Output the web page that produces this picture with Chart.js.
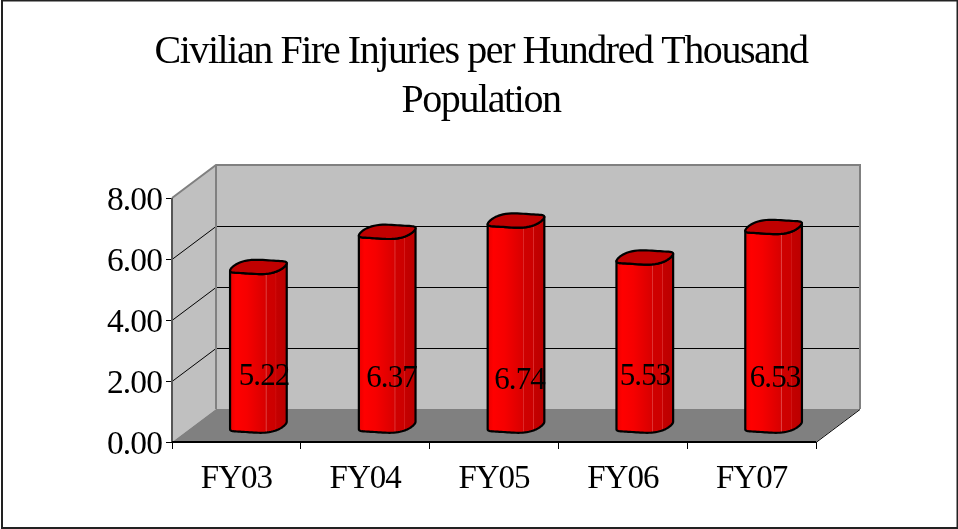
<!DOCTYPE html>
<html><head><meta charset="utf-8">
<style>html,body{margin:0;padding:0;background:#fff}#w{width:958px;height:529px;position:relative}</style>
<script src="https://cdn.jsdelivr.net/npm/chart.js@4"></script>
</head><body><div id="w"><canvas id="c" width="958" height="529"></canvas></div>
<script>
const categories = ['FY03','FY04','FY05','FY06','FY07'];
const injuries = [5.22,6.37,6.74,5.53,6.53];
const titleLines = ['Civilian Fire Injuries per Hundred Thousand','Population'];
const yTicks = [0,2,4,6,8];

const SERIF = '"Liberation Serif","Times New Roman",serif';
const DX = 44, DY = -33;                 // depth of the 3D box
const ringDx = 10, ringDy = 7.5;         // oblique depth of the cylinder's circular section

// The reference's text is tightly tracked: tracking is chosen from the font size
const trackingBySize = {40:'-1.42px',33.5:'-0.9px',33:'-1px',31:'-0.9px'};
const canvasEl = document.getElementById('c');
const ctx0 = canvasEl.getContext('2d');
const nativeFillText = ctx0.fillText;
ctx0.fillText = function(t,x,y,m){
  const size = parseFloat((this.font.match(/([\d.]+)px/)||[])[1]);
  this.letterSpacing = trackingBySize[size] || '0px';
  if(size===40) x += 2;
  return m===undefined ? nativeFillText.call(this,t,x,y) : nativeFillText.call(this,t,x,y,m);
};

// Cylinder drawn by the bar element itself, from its own scale-derived geometry
Chart.BarElement.prototype.draw = function(ctx){
  const half = this.width/2;
  const cx = this.x + DX/2;
  const top = this.y + DY/2, bot = this.base + DY/2;
  const wx = Math.sqrt(half*half - ringDx*ringDx);
  const t0 = Math.atan2(ringDx, wx);
  const pt = (cy,t)=>[cx + wx*Math.cos(t) + ringDx*Math.sin(t),
                      cy - ringDy*Math.sin(t) - 1.1*Math.sin(3*t+0.6)+1.1*Math.sin(0.6)];
  ctx.save();
  ctx.lineWidth = 2.2; ctx.strokeStyle = '#000'; ctx.lineJoin='round';
  const g = ctx.createLinearGradient(cx-half,0,cx+half,0);
  [[0,'#e80000'],[0.1,'#ff0000'],[0.3,'#f60000'],[0.62,'#d80000'],[0.64,'#e04040'],[0.65,'#cf0000'],
   [0.8,'#cc0000'],[0.81,'#dc3030'],[0.82,'#c40000'],[1,'#bb0000']].forEach(s=>g.addColorStop(s[0],s[1]));
  ctx.beginPath();
  let p = pt(top,Math.PI+t0); ctx.moveTo(p[0],p[1]);
  p = pt(bot,Math.PI+t0); ctx.lineTo(p[0],p[1]);
  for(let i=1;i<=40;i++){ p = pt(bot,Math.PI+t0+Math.PI*i/40); ctx.lineTo(p[0],p[1]); }
  p = pt(top,t0); ctx.lineTo(p[0],p[1]);
  for(let i=1;i<=40;i++){ p = pt(top,t0-Math.PI*i/40); ctx.lineTo(p[0],p[1]); }
  ctx.closePath(); ctx.fillStyle = g; ctx.fill(); ctx.stroke();
  ctx.beginPath();
  for(let i=0;i<=60;i++){ p = pt(top,2*Math.PI*i/60); i?ctx.lineTo(p[0],p[1]):ctx.moveTo(p[0],p[1]); }
  ctx.closePath(); ctx.fillStyle='#c00000'; ctx.fill(); ctx.stroke();
  ctx.restore();
};

const box3d = {
  id:'box3d',
  beforeDraw(chart){
    // optical centring of the y tick labels on their tick marks
    chart.scales.y.getLabelItems(chart.chartArea).forEach(it=>{
      if(!it.__moved){ it.options.translation[1]+=3; it.__moved=true; }
    });
  },
  beforeDatasetsDraw(chart){
    const {ctx,scales:{x,y}} = chart;
    const L=x.left,R=x.right,B=y.getPixelForValue(0),T=y.getPixelForValue(8);
    ctx.save();
    ctx.fillStyle='#c0c0c0';
    ctx.beginPath();ctx.moveTo(L,B);ctx.lineTo(L,T);ctx.lineTo(L+DX,T+DY);ctx.lineTo(R+DX,T+DY);ctx.lineTo(R+DX,B+DY);ctx.lineTo(L+DX,B+DY);ctx.closePath();ctx.fill();
    ctx.fillStyle='#808080';
    ctx.beginPath();ctx.moveTo(L,B);ctx.lineTo(L+DX,B+DY);ctx.lineTo(R+DX,B+DY);ctx.lineTo(R,B);ctx.closePath();ctx.fill();
    ctx.strokeStyle='#000';ctx.lineWidth=1;
    yTicks.slice(1,-1).forEach(v=>{
      const py=Math.round(y.getPixelForValue(v))+0.5;
      ctx.beginPath();ctx.moveTo(L,py);ctx.lineTo(L+DX,py+DY);ctx.lineTo(R+DX,py+DY);ctx.stroke();
    });
    ctx.strokeStyle='#808080';ctx.lineWidth=2;
    ctx.beginPath();ctx.moveTo(L,T);ctx.lineTo(L+DX,T+DY);ctx.lineTo(R+DX,T+DY);ctx.lineTo(R+DX,B+DY);ctx.moveTo(L+DX,T+DY);ctx.lineTo(L+DX,B+DY);ctx.stroke();
    ctx.strokeStyle='#000';ctx.lineWidth=1;
    ctx.beginPath();ctx.moveTo(R,B+.5);ctx.lineTo(R+DX,B+DY+.5);ctx.stroke();
    ctx.strokeStyle='#555';ctx.lineWidth=2;
    ctx.beginPath();ctx.moveTo(L,T);ctx.lineTo(L,B);ctx.stroke();
    ctx.strokeStyle='#000';ctx.lineWidth=2;
    ctx.beginPath();ctx.moveTo(L,B);ctx.lineTo(R,B);ctx.stroke();
    ctx.restore();
  }
};
const valueLabels = {
  id:'valueLabels',
  afterDatasetsDraw(chart){
    const {ctx}=chart;
    const nudgeX=[5.6,4.3,3.5,0.2,1.4], labelY=[377,379,381,377,379];
    ctx.save();
    ctx.font='31px '+SERIF;ctx.fillStyle='#000';ctx.textAlign='center';ctx.textBaseline='middle';
    chart.getDatasetMeta(0).data.forEach((b,i)=>{
      ctx.fillText(injuries[i].toFixed(2), b.x+DX/2+nudgeX[i], labelY[i]);
    });
    ctx.restore();
  }
};
const frame = {
  id:'frame',
  afterDraw(chart){
    const {ctx}=chart;
    ctx.save();ctx.strokeStyle='#222';ctx.lineWidth=2;
    ctx.strokeRect(2,0.5,955.5,527.5);
    ctx.restore();
  }
};
new Chart(canvasEl,{
  type:'bar',
  data:{labels:categories,datasets:[{data:injuries,backgroundColor:'#ff0000',barPercentage:0.44,categoryPercentage:1}]},
  plugins:[box3d,valueLabels,frame],
  options:{
    responsive:false,animation:false,
    layout:{padding:0},
    plugins:{
      legend:{display:false},tooltip:{enabled:false},
      title:{display:true,text:titleLines,color:'#000',
        font:{family:SERIF,size:40,weight:'normal',lineHeight:1.225},
        padding:{top:28,bottom:72}}
    },
    scales:{
      x:{type:'category',offset:true,
        afterFit:s=>{s.height=87;},
        grid:{offset:true,drawOnChartArea:false,drawTicks:true,tickLength:7,color:'#000',lineWidth:1},
        border:{display:false},
        ticks:{color:'#000',padding:11,maxRotation:0,font:{family:SERIF,size:33}}},
      y:{type:'linear',min:0,max:8,
        afterFit:s=>{s.width=172;},
        afterBuildTicks:s=>{s.ticks=yTicks.map(v=>({value:v}));},
        grid:{drawOnChartArea:false,tickLength:6,color:'#000',lineWidth:1},
        border:{display:false},
        ticks:{color:'#000',padding:4,font:{family:SERIF,size:33.5},callback:v=>v.toFixed(2)}},
      spacer:{type:'linear',position:'right',min:0,max:1,
        afterFit:s=>{s.width=142;},
        grid:{display:false},border:{display:false},ticks:{display:false}}
    }
  }
});
</script></body></html>
